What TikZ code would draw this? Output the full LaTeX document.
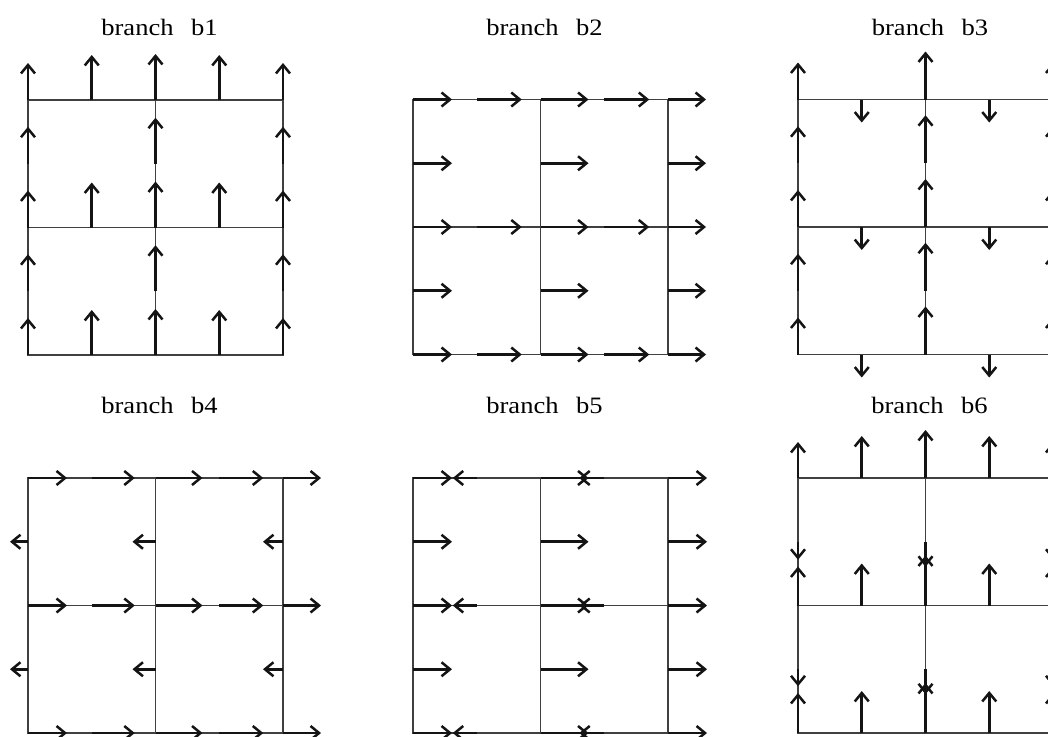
\documentclass[tikz,border=0pt]{standalone}
\usepackage{fontspec}
\setmainfont{Liberation Serif}
\usetikzlibrary{arrows.meta}
\tikzset{
  gridln/.style={line width=1.3pt, draw=black!75},
  vec/.style={line width=2.6pt, draw=black!92, -{Straight Barb[length=8.5pt,width=14pt,line width=2.5pt]}},
  ttl/.style={anchor=base, font=\fontsize{23.5}{26}\selectfont, inner sep=0pt}
}
\newcommand\panelgrid{\draw[gridln] (0,0) rectangle (255,255) (127.5,0) -- (127.5,255) (0,127.5) -- (255,127.5);}
\newcommand\ttltext[1]{\scalebox{1.13}[1]{branch\hspace{15.5pt}#1}}
\begin{document}
\begin{tikzpicture}[x=1pt,y=-1pt]
\clip (0,0) rectangle (1048,736);
\fill[white] (0,0) rectangle (1048,736);
% titles
\node[ttl] (t1) at (159.5,35) {\ttltext{b1}};
\node[ttl] (t2) at (544.5,35) {\ttltext{b2}};
\node[ttl] (t3) at (930,35) {\ttltext{b3}};
\node[ttl] (t4) at (159.5,413) {\ttltext{b4}};
\node[ttl] (t5) at (544.5,413) {\ttltext{b5}};
\node[ttl] (t6) at (929.5,413) {\ttltext{b6}};
% ---------- b1 ----------
\begin{scope}[shift={(28,100)}]
  \panelgrid
  \foreach \i/\L in {0/37,2/46,4/37} \foreach \j in {0,...,4}
    \draw[vec] (\i*63.75,\j*63.75) -- ++(0,-\L);
  \foreach \i/\L in {1/45,3/45} \foreach \j in {0,2,4}
    \draw[vec] (\i*63.75,\j*63.75) -- ++(0,-\L);
\end{scope}
% ---------- b2 ----------
\begin{scope}[shift={(413,99.5)}]
  \panelgrid
  \foreach \i/\L in {0/39,2/48,4/38} \foreach \j in {0,...,4}
    \draw[vec] (\i*63.75,\j*63.75) -- ++(\L,0);
  \foreach \i/\L in {1/45,3/45} \foreach \j in {0,2,4}
    \draw[vec] (\i*63.75,\j*63.75) -- ++(\L,0);
\end{scope}
% ---------- b3 ----------
\begin{scope}[shift={(798,99.5)}]
  \panelgrid
  \foreach \i/\L in {0/37,2/48,4/37} \foreach \j in {0,...,4}
    \draw[vec] (\i*63.75,\j*63.75) -- ++(0,-\L);
  \foreach \i in {1,3} \foreach \j in {0,2,4}
    \draw[vec] (\i*63.75,\j*63.75) -- ++(0,23);
\end{scope}
% ---------- b4 ----------
\begin{scope}[shift={(28,478)}]
  \panelgrid
  \foreach \i/\L in {0/39,1/43,2/47,3/44,4/38} \foreach \j in {0,2,4}
    \draw[vec] (\i*63.75,\j*63.75) -- ++(\L,0);
  \foreach \i/\L in {0/18,2/23,4/20} \foreach \j in {1,3}
    \draw[vec] (\i*63.75,\j*63.75) -- ++(-\L,0);
\end{scope}
% ---------- b5 ----------
\begin{scope}[shift={(413,478)}]
  \panelgrid
  \foreach \i/\L in {0/39,2/48,4/39} \foreach \j in {0,...,4}
    \draw[vec] (\i*63.75,\j*63.75) -- ++(\L,0);
  \foreach \i/\L in {1/24,3/25} \foreach \j in {0,2,4}
    \draw[vec] (\i*63.75,\j*63.75) -- ++(-\L,0);
\end{scope}
% ---------- b6 ----------
\begin{scope}[shift={(798,478)}]
  \panelgrid
  \foreach \i in {0,4} {
    \draw[vec] (\i*63.75,0) -- ++(0,-36);
    \draw[vec] (\i*63.75,63.75) -- ++(0,18);
    \draw[vec] (\i*63.75,127.5) -- ++(0,-39);
    \draw[vec] (\i*63.75,191.25) -- ++(0,17);
    \draw[vec] (\i*63.75,255) -- ++(0,-40);
  }
  \draw[vec] (127.5,0) -- ++(0,-48);
  \draw[vec] (127.5,63.75) -- ++(0,25);
  \draw[vec] (127.5,127.5) -- ++(0,-50);
  \draw[vec] (127.5,191.25) -- ++(0,25);
  \draw[vec] (127.5,255) -- ++(0,-50);
  \foreach \i in {1,3} \foreach \j in {0,2,4}
    \draw[vec] (\i*63.75,\j*63.75) -- ++(0,-42);
\end{scope}
\end{tikzpicture}
\end{document}
